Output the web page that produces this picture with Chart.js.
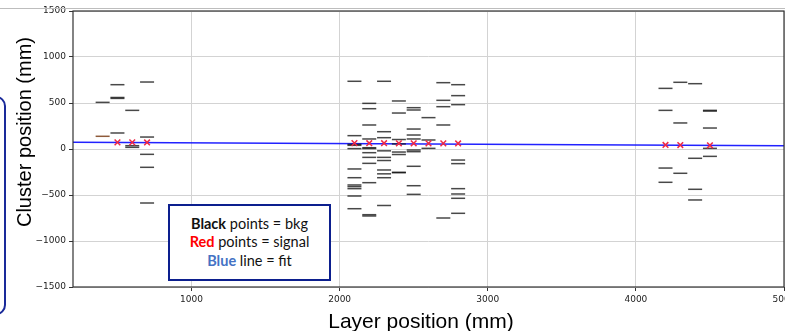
<!DOCTYPE html>
<html>
<head>
<meta charset="utf-8">
<script src="https://cdn.jsdelivr.net/npm/chart.js@4/dist/chart.umd.min.js"></script>
<style>
  html, body { margin:0; padding:0; background:#fff; overflow:hidden; }
  #page { position:relative; width:785px; height:331px; overflow:hidden; background:#fff; }
  #wrap { position:absolute; left:0; top:0; width:810px; height:331px; }
  #topline { position:absolute; left:0; top:8px; width:785px; height:0; border-top:1px solid #bdbdbd; }
  #sidebox { position:absolute; left:-20px; top:96px; width:22px; height:215px; border:2px solid #1a2a9a; border-radius:10px; }
  #legend { position:absolute; left:168px; top:204px; width:159px; height:73px; border:2.5px solid #0c1f8e; background:#fff;
            font-family:Lato, "Open Sans", sans-serif; font-size:14.5px; line-height:18.5px; color:#111; text-align:center;
            display:flex; flex-direction:column; justify-content:center; }
  #ytitle { position:absolute; left:24px; top:132px; transform:translate(-50%,-50%) rotate(-90deg); white-space:nowrap;
            font-family:"Liberation Sans", Arial, sans-serif; font-size:20px; color:#000; }
  #xtitle { position:absolute; left:421px; top:321px; transform:translate(-50%,-50%); white-space:nowrap;
            font-family:"Liberation Sans", Arial, sans-serif; font-size:21px; color:#000; }
</style>
</head>
<body>
<div id="page">
  <div id="wrap"><canvas id="c"></canvas></div>
  <div id="topline"></div>
  <div id="sidebox"></div>
  <div id="ytitle">Cluster position (mm)</div>
  <div id="xtitle">Layer position (mm)</div>
  <div id="legend">
    <div><b>Black</b> points = bkg</div>
    <div><b style="color:#ff0000">Red</b> points = signal</div>
    <div><b style="color:#4472c4">Blue</b> line = fit</div>
  </div>
</div>
<script>
// ---- data ----
const bkgLayers = [400, 500, 600, 700, 2100, 2200, 2300, 2400, 2500, 2600, 2700, 2800, 4200, 4300, 4400, 4500];
const bkgHits = [
  [507],
  [699, 560, 550, 174],
  [420, 36, 18],
  [728, 130, -58, -199, -587],
  [736, 145, 50, 40, 4, -217, -312, -391, -409, -431, -511, -649],
  [496, 438, 261, 109, 14, 5, -40, -91, -156, -366, -714, -728],
  [736, 188, 123, -20, -91, -125, -228, -270, -312, -614],
  [522, 391, 103, 55, -33, -60, -253, -258],
  [449, 424, 217, 152, 109, -11, -29, -188, -399, -493],
  [341, 98, 7],
  [721, 529, 460, 261, -750],
  [699, 580, 482, -120, -159, -431, -489, -536, -699],
  [659, 420, -207, -362],
  [725, 283, -264],
  [710, -101, -438, -554],
  [420, 412, 228, 7, -80]
];
const otherHitX = [400];
const otherHitY = [138];
const sigX = [500, 600, 700, 2100, 2200, 2300, 2400, 2500, 2600, 2700, 2800, 4200, 4300, 4500];
const sigY = [72, 72, 71, 64, 63, 63, 62, 62, 61, 61, 60, 44, 43, 40];
const fitX = [200, 5000];
const fitY = [73, 36];
const xTicks = [1000, 2000, 3000, 4000, 5000];
const yTicks = [-1500, -1000, -500, 0, 500, 1000, 1500];

// ---- build ----
const bkgPts = [];
bkgLayers.forEach((lx, i) => bkgHits[i].forEach(v => bkgPts.push({x: lx, y: v})));
const otherPts = otherHitX.map((x, i) => ({x, y: otherHitY[i]}));
const sigPts = sigX.map((x, i) => ({x, y: sigY[i]}));
const fitPts = fitX.map((x, i) => ({x, y: fitY[i]}));

const framePlugin = {
  id: 'frame',
  afterDatasetsDraw(chart) {
    const a = chart.chartArea, ctx = chart.ctx;
    ctx.save();
    ctx.strokeStyle = '#333';
    ctx.lineWidth = 1.2;
    ctx.strokeRect(a.left, a.top, a.right - a.left, a.bottom - a.top);
    ctx.restore();
  }
};

const minus = v => v < 0 ? '\u2212' + Math.abs(v) : String(v);

new Chart(document.getElementById('c'), {
  type: 'scatter',
  data: {
    datasets: [
      { type: 'line', data: fitPts, borderColor: 'rgba(10,10,255,0.9)', borderWidth: 1.6, pointRadius: 0, fill: false, order: 3 },
      { data: bkgPts, pointStyle: 'line', pointRadius: 7, borderColor: 'rgba(20,20,20,0.78)', borderWidth: 1.5, order: 2 },
      { data: otherPts, pointStyle: 'line', pointRadius: 7, borderColor: '#8e5a3a', borderWidth: 1.5, order: 2 },
      { data: sigPts, pointStyle: 'crossRot', pointRadius: 4, borderColor: 'rgb(240,40,70)', borderWidth: 1.5, order: 1 }
    ]
  },
  options: {
    responsive: true,
    maintainAspectRatio: false,
    animation: false,
    events: [],
    layout: { padding: { left: 0, top: 11, right: 26, bottom: 0 } },
    plugins: { legend: { display: false }, tooltip: { enabled: false } },
    scales: {
      x: {
        type: 'linear', min: 200, max: 5000,
        afterBuildTicks: s => { s.ticks = xTicks.map(v => ({value: v})); },
        afterFit: s => { s.height = 44; },
        border: { display: false },
        grid: { color: '#d3d3d3', lineWidth: 1, tickLength: 4, tickColor: '#333', tickWidth: 1 },
        ticks: { color: '#222', padding: 3, maxRotation: 0, autoSkip: false,
                 font: { family: 'DejaVu Sans', size: 9 }, callback: v => String(v) }
      },
      y: {
        type: 'linear', min: -1500, max: 1500,
        afterBuildTicks: s => { s.ticks = yTicks.map(v => ({value: v})); },
        afterFit: s => { s.width = 73; },
        border: { display: false },
        grid: { color: '#d3d3d3', lineWidth: 1, tickLength: 4, tickColor: '#333', tickWidth: 1 },
        ticks: { color: '#222', padding: 3, autoSkip: false,
                 font: { family: 'DejaVu Sans', size: 9 }, callback: v => minus(v) }
      }
    }
  },
  plugins: [framePlugin]
});
</script>
</body>
</html>
